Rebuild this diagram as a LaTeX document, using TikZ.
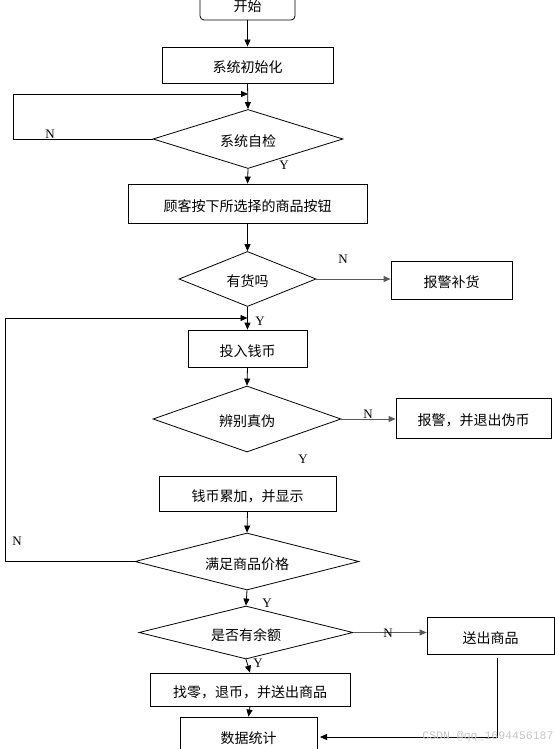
\documentclass[tikz,border=0pt]{standalone}
\usepackage{fontspec}
\setmainfont{Liberation Serif}
\newfontfamily\cjk{Noto Sans CJK SC}
\newfontfamily\wmfont{Liberation Mono}
\usetikzlibrary{shapes.geometric,arrows.meta}
\begin{document}
\begin{tikzpicture}[x=1pt,y=-1pt,
  every node/.style={inner sep=0pt, font=\cjk\fontsize{14}{16}\selectfont},
  low/.style={text height=17pt, text depth=1.7pt},
  box/.style={draw, line width=0.8pt, rectangle, low},
  dia/.style n args={3}{draw, line width=0.8pt, diamond, low, minimum width=#1pt, minimum height=#2pt, aspect=#3},
  arr/.style={draw, line width=0.8pt, -{Triangle[length=7pt,width=6pt]}},
  garr/.style={draw=black!65, line width=1pt, -{Triangle[length=7pt,width=6pt]}},
  lab/.style={font=\rmfamily\fontsize{13}{13}\selectfont}
]
\useasboundingbox (0,0) rectangle (554,749);
\fill[white] (0,0) rectangle (554,749);

\node[draw, line width=0.8pt, rounded corners=4pt, minimum width=95pt, minimum height=27pt] (start) at (247.5,6.5) {开始};
\node[box, minimum width=171pt, minimum height=36pt] (init) at (247.5,65) {系统初始化};
\node[dia={190}{59}{3.22}] (check) at (248,139) {系统自检};
\node[box, minimum width=239pt, minimum height=39pt] (press) at (247.5,203.5) {顾客按下所选择的商品按钮};
\node[dia={137}{55}{2.49}] (stock) at (247.5,279) {有货吗};
\node[box, minimum width=121pt, minimum height=38pt] (alarm1) at (451.5,280) {报警补货};
\node[box, minimum width=119pt, minimum height=37pt] (insert) at (247.5,348.5) {投入钱币};
\node[dia={188}{66}{2.85}] (verify) at (247,419) {辨别真伪};
\node[box, minimum width=155pt, minimum height=40pt] (alarm2) at (473.5,418) {报警，并退出伪币};
\node[box, minimum width=177pt, minimum height=35pt] (accum) at (247.5,493.5) {钱币累加，并显示};
\node[dia={224}{57}{3.93}] (enough) at (247,561.5) {满足商品价格};
\node[dia={214}{53}{4.04}] (balance) at (246,632.5) {是否有余额};
\node[box, minimum width=200pt, minimum height=33pt] (change) at (250,689.5) {找零，退币，并送出商品};
\node[box, minimum width=127pt, minimum height=37pt] (give) at (490.5,635.5) {送出商品};
\node[box, minimum width=137pt, minimum height=38pt] (stats) at (248.5,736) {数据统计};

% connectors
\draw[arr] (start.south) -- (init.north);
\draw[arr] (init.south) -- (check.north);
\coordinate (L1) at (13,94);
\draw[arr] (check.west) -| (L1) -- (L1 -| check.north);
\node[lab] (n1) at (50,134) {N};
\draw[arr] (check.south) -- (press.north);
\node[lab] (y1) at (284,165) {Y};
\draw[arr] (press.south) -- (stock.north);
\draw[garr] (stock.east) -- (stock.east -| alarm1.west);
\node[lab] (n2) at (343,259) {N};
\draw[arr] (stock.south) -- (insert.north);
\node[lab] (y2) at (260,321) {Y};
\draw[arr] (insert.south) -- (verify.north);
\draw[garr] (verify.east) -- (verify.east -| alarm2.west);
\node[lab] (n3) at (368,414) {N};
\node[lab] (y3) at (303,459) {Y};
\draw[arr] (accum.south) -- (enough.north);
\coordinate (L2) at (5,318);
\draw[arr] (enough.west) -| (L2) -- (L2 -| insert.north);
\node[lab] (n4) at (17,541) {N};
\draw[arr] (enough.south) -- (balance.north);
\node[lab] (y4) at (267,603) {Y};
\draw[garr] (balance.east) -- (balance.east -| give.west);
\node[lab] (n5) at (388,633) {N};
\draw[arr] (balance.south) -- (change.north);
\node[lab] (y5) at (258,663) {Y};
\draw[arr] (change.south) -- (stats.north);
\coordinate (G1) at (497,658);
\coordinate (G2) at (320,737);
\draw[arr] (G1) |- (G2);

\node[font=\wmfont\fontsize{11.5}{12}\selectfont, text=gray!45] (wm) at (488,737) {CSDN @qq\_1694456187};
\end{tikzpicture}
\end{document}
